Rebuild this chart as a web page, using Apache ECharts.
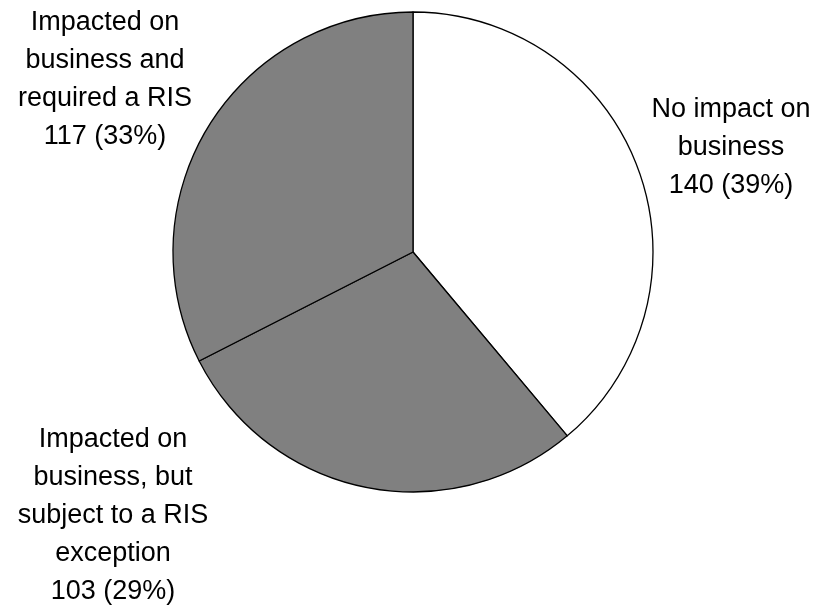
<!DOCTYPE html>
<html>
<head>
<meta charset="utf-8">
<script src="https://cdn.jsdelivr.net/npm/echarts@6/dist/echarts.min.js"></script>
<style>
  html, body { margin: 0; padding: 0; background: #ffffff; }
  #chart { width: 821px; height: 607px; }
</style>
</head>
<body>
<div id="chart"></div>
<script>
// Outcome categories, clockwise from 12 o'clock
const categories = [
  'No impact on\nbusiness',
  'Impacted on\nbusiness, but\nsubject to a RIS\nexception',
  'Impacted on\nbusiness and\nrequired a RIS'
];
const counts = [140, 103, 117];
const sliceColors = ['#ffffff', '#808080', '#808080'];

const total = counts.reduce((a, b) => a + b, 0);

// Label anchor points (centre of each text block)
const labelAnchors = [
  [731, 148],
  [113, 516],
  [105, 80]
];

const chart = echarts.init(document.getElementById('chart'), null, { renderer: 'canvas' });

chart.setOption({
  backgroundColor: '#ffffff',
  animation: false,
  series: [{
    type: 'pie',
    center: [413, 252],
    radius: 240,
    startAngle: 90,
    clockwise: true,
    avoidLabelOverlap: false,
    data: categories.map((name, i) => ({
      name: name,
      value: counts[i],
      itemStyle: { color: sliceColors[i] }
    })),
    itemStyle: { borderColor: '#000000', borderWidth: 1.3 },
    label: {
      show: true,
      position: 'outside',
      color: '#000000',
      fontFamily: 'Liberation Sans, Arial, sans-serif',
      fontSize: 27,
      lineHeight: 38,
      align: 'center',
      formatter: p => p.name + '\n' + p.value + ' (' + Math.round(p.value * 100 / total) + '%)'
    },
    labelLine: { show: false },
    labelLayout: p => ({
      x: labelAnchors[p.dataIndex][0],
      y: labelAnchors[p.dataIndex][1],
      align: 'center',
      verticalAlign: 'middle'
    }),
    emphasis: { disabled: true }
  }]
});
</script>
</body>
</html>
